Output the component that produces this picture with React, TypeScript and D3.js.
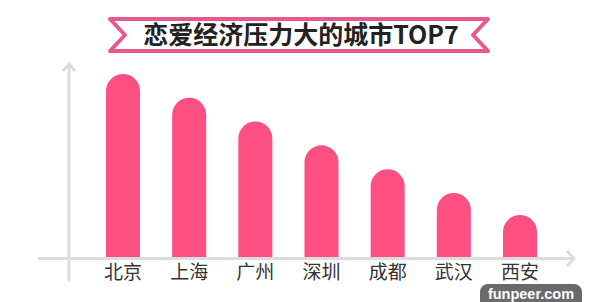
import React from "react";
import * as d3 from "d3";

const cities = ["北京", "上海", "广州", "深圳", "成都", "武汉", "西安"];
const values = [100, 87, 74, 61, 48, 35, 23];
const title = "恋爱经济压力大的城市TOP7";
const watermark = "funpeer.com";

const W = 600;
const H = 302;
const FONT = "'Noto Sans CJK SC', 'Noto Sans', sans-serif";

export default function App() {
  const x = d3.scaleBand<string>().domain(cities).range([106, 537]).paddingInner(0.486).paddingOuter(0);
  const y = d3.scaleLinear().domain([0, 100]).range([257, 74]);
  const bw = x.bandwidth();
  const r = bw / 2;

  const barPath = (c: string, v: number) => {
    const x0 = x(c)!;
    const x1 = x0 + bw;
    const top = y(v);
    const bottom = y(0);
    const p = d3.path();
    p.moveTo(x0, bottom);
    p.lineTo(x0, top + r);
    p.arc(x0 + r, top + r, r, Math.PI, 0);
    p.lineTo(x1, bottom);
    p.closePath();
    return p.toString();
  };

  const ribbon = "M110,19 L488,19 L473,35 L488,51 L110,51 L125,35 Z";

  return (
    <svg width={W} height={H} style={{ position: "absolute", left: 0, top: 0, background: "#fff" }}>
      <rect x={0} y={0} width={W} height={H} fill="#fff" />
      {/* title ribbon */}
      <path d={ribbon} fill="#fff" stroke="#e9588c" strokeWidth={4} strokeLinejoin="round" />
      <text x={301} y={44} textAnchor="middle" fontFamily={FONT} fontWeight={700} fontSize={25} fill="#222">
        {title}
      </text>
      {/* axes */}
      <line x1={69} y1={64} x2={69} y2={281} stroke="#dcdcdc" strokeWidth={3} />
      <polyline points="63,71 69,64 75,71" fill="none" stroke="#dcdcdc" strokeWidth={3} strokeLinejoin="round" />
      <line x1={38} y1={258.5} x2={574} y2={258.5} stroke="#dcdcdc" strokeWidth={3} />
      <polyline points="567,251 574,258.5 567,266" fill="none" stroke="#dcdcdc" strokeWidth={3} strokeLinejoin="round" />
      {/* bars */}
      {cities.map((c, i) => (
        <path key={c} d={barPath(c, values[i])} fill="#fe4f83" />
      ))}
      {/* labels */}
      {cities.map((c) => (
        <text key={c} x={x(c)! + bw / 2} y={279} textAnchor="middle" fontFamily={FONT} fontSize={19} fill="#333">
          {c}
        </text>
      ))}
      {/* watermark */}
      <rect x={480} y={284} width={102} height={28} rx={8} fill="#6a6a6a" />
      <text x={531} y={299} textAnchor="middle" fontFamily="'Liberation Sans', Arial, sans-serif" fontWeight={700} fontSize={14.5} fill="#fff">
        {watermark}
      </text>
    </svg>
  );
}
